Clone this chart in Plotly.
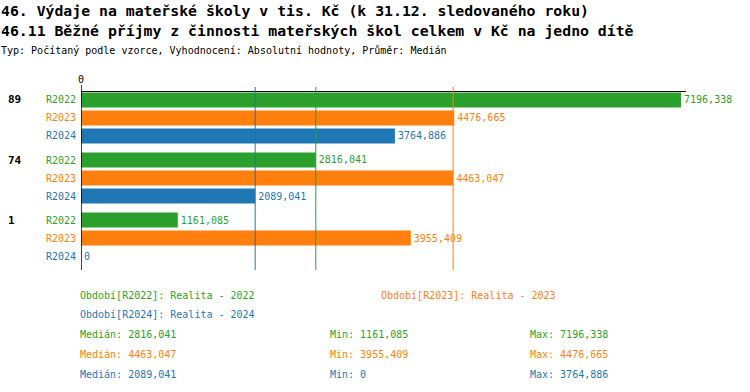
import numpy as np
import plotly.graph_objects as go

# ---- data ----
categories = ["89", "74", "1"]
series_names = ["R2022", "R2023", "R2024"]
values_r2022 = [7196.338, 2816.041, 1161.085]
values_r2023 = [4476.665, 4463.047, 3955.409]
values_r2024 = [3764.886, 2089.041, 0.0]
period_labels = ["Období[R2022]: Realita - 2022",
                 "Období[R2023]: Realita - 2023",
                 "Období[R2024]: Realita - 2024"]
title_line1 = "46. Výdaje na mateřské školy v tis. Kč (k 31.12. sledovaného roku)"
title_line2 = "46.11 Běžné příjmy z činnosti mateřských škol celkem v Kč na jedno dítě"
title_line3 = "Typ: Počítaný podle vzorce, Vyhodnocení: Absolutní hodnoty, Průměr: Medián"

colors = ["#2ca02c", "#ff7f0e", "#1f77b4"]
all_values = [values_r2022, values_r2023, values_r2024]

FONT = "DejaVu Sans Mono"
W, H = 750, 392
L, R, T, B = 81, 64, 92, 122
PW, PH = W - L - R, H - T - B


def fmt(v):
    return f"{v:.3f}".replace(".", ",") if v != 0 else "0"


def px_x(px):
    return (px - L) / PW


def px_y(py):
    return (H - B - py) / PH


def text_ann(px, py, txt, col, size=10):
    return dict(x=px_x(px), y=px_y(py), xref="paper", yref="paper", text=txt,
                showarrow=False, xanchor="left", yanchor="middle", xshift=-2,
                font=dict(family=FONT, size=size, color=col))


fig = go.Figure()
for name, vals, col in zip(series_names, all_values, colors):
    fig.add_trace(go.Bar(
        y=categories, x=vals, orientation="h", name=name,
        marker=dict(color=col, line=dict(width=0)),
        text=[fmt(v) for v in vals], textposition="outside",
        textfont=dict(family=FONT, size=10, color=col),
        constraintext="none", cliponaxis=False, hoverinfo="skip",
    ))

shapes = []
annotations = []
# median lines
for vals, col in zip(all_values, colors):
    med = float(np.median(vals))
    shapes.append(dict(type="line", xref="x", yref="paper", x0=med, x1=med,
                       y0=0, y1=px_y(87), line=dict(color=col, width=1)))
# vertical zero axis line
shapes.append(dict(type="line", xref="x", yref="paper", x0=0, x1=0,
                   y0=0, y1=px_y(85), line=dict(color="black", width=1.5)))

# group labels and series labels (y given as category index)
for gi, cat in enumerate(categories):
    annotations.append(dict(x=px_x(8), y=gi, xref="paper", yref="y", yshift=18,
                            xshift=-2, text="<b>%s</b>" % cat, showarrow=False,
                            xanchor="left", yanchor="middle",
                            font=dict(family=FONT, size=11, color="black")))
    for i, (name, col) in enumerate(zip(series_names, colors)):
        annotations.append(dict(x=px_x(78), y=gi, xref="paper", yref="y",
                                yshift=18 - 18 * i, text=name, showarrow=False,
                                xanchor="right", yanchor="middle",
                                font=dict(family=FONT, size=10, color=col)))

# titles
annotations.append(text_ann(1, 10, "<b>%s</b>" % title_line1, "black", 14.8))
annotations.append(text_ann(1, 31, "<b>%s</b>" % title_line2, "black", 14.8))
annotations.append(text_ann(1, 50, title_line3, "black", 10))

# legend-like footer
leg_pos = [(80, 295), (381, 295), (80, 314)]
for (px, py), txt, col in zip(leg_pos, period_labels, colors):
    annotations.append(text_ann(px, py, txt, col))

for i, (vals, col) in enumerate(zip(all_values, colors)):
    py = 334 + 20 * i
    stats = [("Medián: " + fmt(float(np.median(vals))), 80),
             ("Min: " + fmt(float(np.min(vals))), 330),
             ("Max: " + fmt(float(np.max(vals))), 530)]
    for txt, px in stats:
        annotations.append(text_ann(px, py, txt, col))

fig.update_layout(
    width=W, height=H, margin=dict(l=L, r=R, t=T, b=B),
    paper_bgcolor="white", plot_bgcolor="white",
    barmode="group", bargap=0.1, bargroupgap=0.167,
    showlegend=False, shapes=shapes, annotations=annotations,
    xaxis=dict(side="top", range=[0, 7256], tickvals=[0], ticktext=["0"],
               showgrid=False, zeroline=False, showline=True, linecolor="black",
               linewidth=1, ticks="", ticklabelstandoff=4,
               tickfont=dict(family=FONT, size=10, color="black")),
    yaxis=dict(type="category", range=[2.533, -0.433], showticklabels=False,
               showgrid=False, zeroline=False, showline=False, ticks=""),
)

fig.write_html("out.html", config={"displayModeBar": False},
               post_script="document.body.style.margin='0';document.body.style.overflow='hidden';")
